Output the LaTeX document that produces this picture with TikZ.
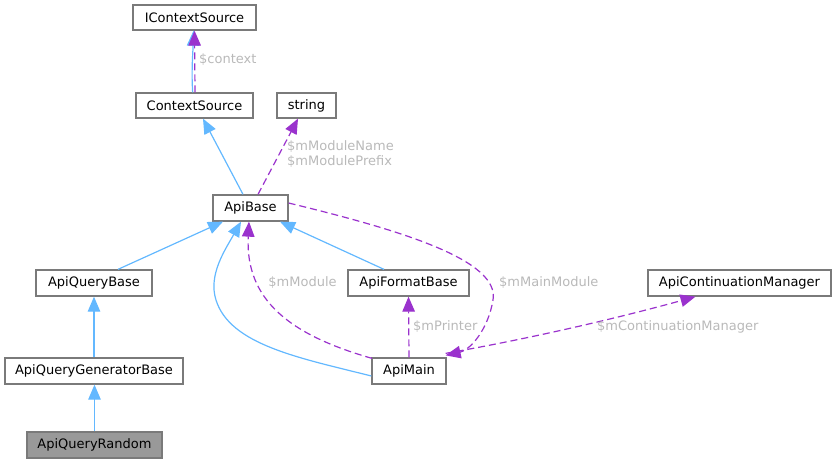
\documentclass[tikz,border=0pt]{standalone}
\usepackage{fontspec}
\setmainfont{DejaVu Sans}
\usetikzlibrary{arrows.meta}
\definecolor{inhblue}{HTML}{63B8FF}
\definecolor{usepurple}{HTML}{9A32CD}
\definecolor{boxgray}{HTML}{7A7A7A}
\definecolor{lblgray}{RGB}{185,185,185}
\definecolor{hlfill}{HTML}{999999}
\tikzset{
  cls/.style={draw=boxgray, line width=1.3pt, fill=white, inner sep=0pt, anchor=center,
    font=\fontsize{13}{15.5}\selectfont, text=black},
  inh/.style={draw=inhblue, line width=1.2pt, -{Triangle[length=15pt,width=12.5pt,fill=inhblue]}},
  use/.style={draw=usepurple, line width=1.2pt, dash pattern=on 7pt off 4pt, -{Triangle[length=15pt,width=12.5pt,fill=usepurple]}},
  lbl/.style={text=lblgray, inner sep=0pt, font=\fontsize{13}{15}\selectfont, align=left}
}
\begin{document}
\begin{tikzpicture}[x=1pt,y=-1pt]
\useasboundingbox (0,0) rectangle (837,464);
% nodes
\node[cls, minimum width=123pt, minimum height=25pt] (ictx) at (194.5,17.5) {IContextSource};
\node[cls, minimum width=117pt, minimum height=25pt] (ctx) at (194.5,105.5) {ContextSource};
\node[cls, minimum width=59pt, minimum height=25pt] (str) at (306.5,105.5) {string};
\node[cls, minimum width=75pt, minimum height=26pt] (base) at (250.5,208) {ApiBase};
\node[cls, minimum width=116pt, minimum height=26pt] (qbase) at (94,283) {ApiQueryBase};
\node[cls, minimum width=121pt, minimum height=26pt] (fbase) at (408.5,283) {ApiFormatBase};
\node[cls, minimum width=183pt, minimum height=26pt] (cmgr) at (739.5,283) {ApiContinuationManager};
\node[cls, minimum width=178pt, minimum height=26pt] (gbase) at (94,371) {ApiQueryGeneratorBase};
\node[cls, minimum width=74pt, minimum height=26pt] (main) at (409,371) {ApiMain};
\node[cls, fill=hlfill, minimum width=135pt, minimum height=26pt] (rnd) at (94.5,445) {ApiQueryRandom};

% inheritance
\draw[inh] ([xshift=-1.8pt]ctx.north) .. controls +(-1.5,-20) and +(-0.5,20) .. ([xshift=-1pt]ictx.south);
\draw[inh] ([xshift=-7.5pt]base.north) -- ([xshift=8.5pt]ctx.south);
\draw[inh] ([xshift=24pt]qbase.north) -- ([xshift=-27.5pt]base.south);
\draw[inh] ([xshift=-24.5pt]fbase.north) -- ([xshift=29.5pt]base.south);
\draw[inh] (gbase.north) -- (qbase.south);
\draw[inh] (rnd.north) -- ([xshift=0.5pt]gbase.south);
\draw[inh] ([yshift=-5pt]main.west) .. controls (300,358) and (230,345) .. (216,300)
  .. controls (208,275) and (225,250) .. ([xshift=-9.5pt]base.south);

% usage
\draw[use] ([xshift=0.5pt]ctx.north) -- ([xshift=0pt]ictx.south);
\node[lbl, anchor=west] (lctx) at (199,60) {\$context};
\draw[use] ([xshift=7.5pt]base.north) -- ([xshift=-8.5pt]str.south);
\node[lbl, anchor=north west] (lstr) at (287,140) {\$mModuleName\\\$mModulePrefix};
\draw[use] ([xshift=-37pt,yshift=-1pt]main.north) .. controls (290,335) and (245,300) .. ([xshift=-1.5pt]base.south);
\node[lbl] (lmod) at (302.5,283) {\$mModule};
\draw[use] ([yshift=5pt]base.east) .. controls (400,230) and (500,260) .. (493,300)
  .. controls (488,330) and (470,350) .. ([xshift=-1pt,yshift=2pt]main.north east);
\node[lbl, anchor=west] (lmm) at (499,283) {\$mMainModule};
\draw[use] (main.north) -- (fbase.south);
\node[lbl, anchor=west] (lpr) at (413,327) {\$mPrinter};
\draw[use] ([xshift=-1pt,yshift=4pt]main.north east) .. controls (550,335) and (640,312) .. ([xshift=-44pt]cmgr.south);
\node[lbl, anchor=west] (lcm) at (597,327) {\$mContinuationManager};
\end{tikzpicture}
\end{document}
